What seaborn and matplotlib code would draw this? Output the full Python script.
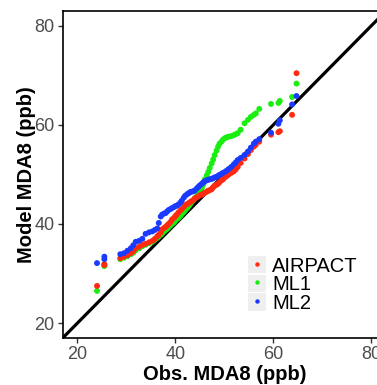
import matplotlib
matplotlib.use("Agg")
import matplotlib.pyplot as plt
import seaborn as sns
import pandas as pd
from matplotlib.lines import Line2D
from matplotlib.patches import Rectangle
from matplotlib.legend_handler import HandlerTuple

series_names = ["AIRPACT", "ML1", "ML2"]
series_colors = ["#FF2A10", "#19EE10", "#1A3AFF"]
draw_order = ["ML1", "AIRPACT", "ML2"]

obs = [24.0, 25.5, 25.5, 28.75, 29.5, 30.2, 30.9, 31.4, 31.9, 32.6, 33.25, 33.9,
       34.6, 35.3, 35.8, 36.3, 36.6, 37.0, 37.3, 37.7, 38.0, 38.3, 38.6, 39.0,
       39.3, 39.7, 40.0, 40.3, 40.6, 41.0, 41.3, 41.7, 42.0, 42.4, 42.7, 43.0,
       43.3, 43.7, 44.0, 44.4, 44.7, 45.0, 45.4, 45.7, 46.0, 46.4, 46.7, 47.0,
       47.4, 47.7, 48.0, 48.4, 48.7, 49.0, 49.4, 49.7, 50.1, 50.5, 50.9, 51.4,
       51.9, 52.3, 52.7, 53.3, 54.1, 54.8, 55.4, 56.0, 56.4, 57.1, 59.5, 61.0,
       61.3, 63.8, 64.7]

airpact = [27.5, 31.7, 31.9, 33.1, 33.4, 33.7, 34.1, 34.5, 35.1, 35.4, 35.75, 36.0,
           36.3, 36.6, 37.0, 37.5, 37.8, 38.3, 38.9, 39.2, 39.4, 39.7, 40.0, 40.4,
           40.9, 41.2, 41.6, 41.9, 42.3, 42.7, 43.0, 43.4, 43.8, 44.0, 44.2, 44.4,
           44.6, 44.9, 45.2, 45.4, 45.6, 45.8, 45.9, 46.1, 46.3, 46.5, 46.7, 46.8,
           47.0, 47.4, 47.7, 47.9, 48.1, 48.4, 48.8, 49.0, 49.4, 49.7, 50.0, 50.3,
           50.6, 51.0, 51.5, 52.3, 53.2, 54.1, 54.9, 55.6, 56.0, 56.6, 58.0, 58.5,
           58.7, 62.0, 70.4]

ml1 = [26.5, 31.5, 31.7, 32.9, 33.2, 33.5, 33.9, 34.2, 34.7, 35.1, 35.5, 35.8,
       36.1, 36.4, 36.8, 37.2, 37.5, 37.8, 38.1, 38.5, 38.8, 39.0, 39.3, 39.7,
       40.0, 40.3, 40.7, 41.0, 41.2, 41.6, 42.0, 42.4, 42.8, 43.2, 43.6, 44.0,
       44.4, 44.8, 45.2, 45.7, 46.2, 46.7, 47.3, 48.0, 49.0, 49.8, 50.5, 51.3,
       52.2, 53.0, 53.9, 54.8, 55.6, 56.2, 56.6, 57.0, 57.3, 57.5, 57.6, 57.7,
       57.9, 58.1, 58.3, 59.0, 60.3, 61.0, 61.6, 62.0, 62.3, 63.2, 64.2, 64.4,
       64.8, 65.6, 68.3]

ml2 = [32.1, 33.4, 32.9, 33.9, 34.1, 34.6, 35.1, 35.7, 36.4, 36.6, 37.0, 38.0,
       38.3, 38.5, 38.8, 39.1, 40.2, 41.5, 41.9, 42.1, 42.2, 42.5, 42.8, 43.0,
       43.2, 43.4, 43.6, 43.7, 43.9, 44.3, 44.7, 45.3, 45.7, 46.0, 46.2, 46.4,
       46.5, 46.6, 46.8, 47.2, 47.5, 47.8, 48.1, 48.4, 48.6, 48.8, 48.9, 49.0,
       49.1, 49.2, 49.4, 49.5, 49.7, 49.9, 50.1, 50.3, 50.5, 50.8, 51.1, 51.5,
       52.0, 52.4, 52.9, 53.3, 53.9, 54.6, 55.4, 56.2, 56.6, 57.1, 58.4, 60.2,
       60.9, 64.1, 65.8]

axis_ticks = [20, 40, 60, 80]
x_title = "Obs. MDA8 (ppb)"
y_title = "Model MDA8 (ppb)"

values = dict(zip(series_names, [airpact, ml1, ml2]))
df = pd.concat([
    pd.DataFrame({"obs": obs, "model": values[name], "series": name})
    for name in draw_order
], ignore_index=True)

sns.set_theme(style="white")
plt.rcParams["font.family"] = ["Liberation Sans", "DejaVu Sans"]

W, H = 377, 385
fig = plt.figure(figsize=(W / 100, H / 100), dpi=100)
ax = fig.add_axes([62.7 / W, (H - 338) / H, 323.5 / W, 327.3 / H])

ax.axline((20, 20), slope=1, color="black", lw=2.3, zorder=1)
sns.scatterplot(data=df, x="obs", y="model", hue="series",
                palette=dict(zip(series_names, series_colors)),
                hue_order=draw_order, s=18, linewidth=0, legend=False,
                ax=ax, zorder=3)

ax.set_xlim(17, 83)
ax.set_ylim(17, 83)
ax.set_xticks(axis_ticks)
ax.set_yticks(axis_ticks)
ax.tick_params(axis="both", which="major", direction="out", length=3.5,
               width=1, color="#333333", labelcolor="#4D4D4D",
               labelsize=13, pad=2.5, left=True, bottom=True)
for sp in ax.spines.values():
    sp.set_visible(True)
    sp.set_color("black")
    sp.set_linewidth(1.2)

ax.set_xlabel(x_title, fontsize=14.5, fontweight="bold", color="black", labelpad=1)
ax.set_ylabel(y_title, fontsize=14.5, fontweight="bold", color="black", labelpad=-1)

handles = []
for c in series_colors:
    bg = Rectangle((0, 0), 1, 1, facecolor="#EFEFEF", edgecolor="none")
    dot = Line2D([], [], marker="o", linestyle="none", markersize=3.2,
                 markerfacecolor=c, markeredgewidth=0)
    handles.append((bg, dot))
leg = ax.legend(handles, series_names, handler_map={tuple: HandlerTuple(ndivide=1)},
                loc="upper left", bbox_to_anchor=(248 / W, (H - 256) / H),
                bbox_transform=fig.transFigure, frameon=False, fontsize=14.5,
                handlelength=0.9, handleheight=0.95, handletextpad=0.3,
                labelspacing=-0.05, borderpad=0, borderaxespad=0)
for t in leg.get_texts():
    t.set_color("black")

fig.savefig("out.png", dpi=100)
